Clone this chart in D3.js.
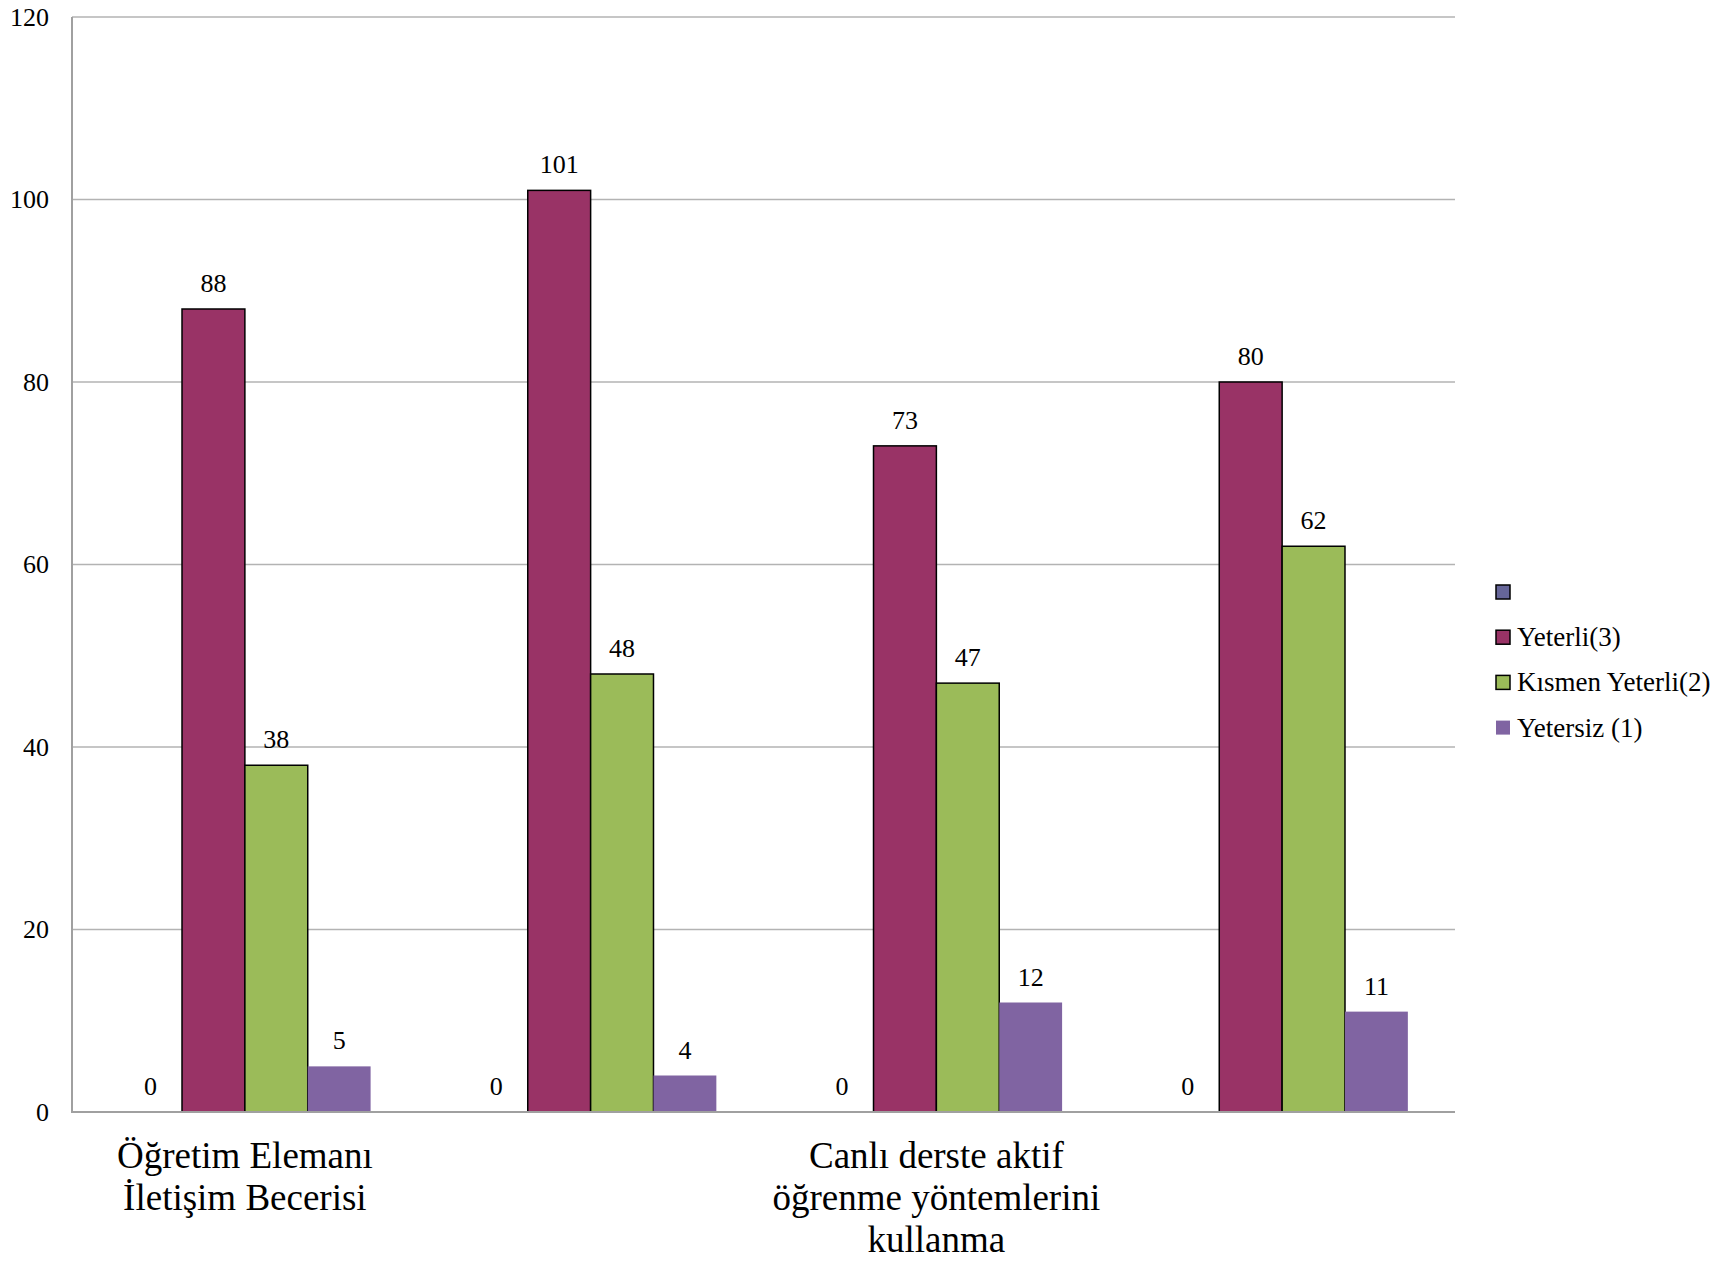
<!DOCTYPE html>
<html>
<head>
<meta charset="utf-8">
<script src="https://cdn.jsdelivr.net/npm/d3@7"></script>
<style>
html, body { margin: 0; padding: 0; background: #ffffff; }
svg { display: block; }
text { font-family: "Liberation Serif", "Times New Roman", serif; fill: #000; }
</style>
</head>
<body>
<svg id="chart" width="1733" height="1262"></svg>
<script>
// ---- data ----
const categories = [
  "Öğretim Elemanı İletişim Becerisi",
  "",
  "Canlı derste aktif öğrenme yöntemlerini kullanma",
  ""
];
const seriesNames = ["", "Yeterli(3)", "Kısmen Yeterli(2)", "Yetersiz (1)"];
const seriesBlank    = [0, 0, 0, 0];
const seriesYeterli  = [88, 101, 73, 80];
const seriesKismen   = [38, 48, 47, 62];
const seriesYetersiz = [5, 4, 12, 11];
const yTicks = [0, 20, 40, 60, 80, 100, 120];

// ---- styling (not data) ----
const seriesValues = [seriesBlank, seriesYeterli, seriesKismen, seriesYetersiz];
const colors = ["#666699", "#993366", "#9BBB59", "#8064A2"];
const outlined = [true, true, true, false];
const serif = '"Liberation Serif", "Times New Roman", serif';

const svg = d3.select("#chart");
const plotLeft = 72, plotRight = 1455, plotTop = 17, plotBottom = 1112;

const x0 = d3.scaleBand()
  .domain(d3.range(categories.length))
  .range([plotLeft, plotRight])
  .paddingInner(1.5 / 5.5)
  .paddingOuter(1.5 / 5.5 / 2);

const x1 = d3.scaleBand()
  .domain(d3.range(seriesNames.length))
  .range([0, x0.bandwidth()])
  .padding(0);

const y = d3.scaleLinear().domain([0, 120]).range([plotBottom, plotTop]);

// gridlines
svg.append("g")
  .selectAll("line")
  .data(yTicks.filter(t => t > 0))
  .join("line")
  .attr("x1", plotLeft).attr("x2", plotRight)
  .attr("y1", d => y(d)).attr("y2", d => y(d))
  .attr("stroke", "#B3B3B3")
  .attr("stroke-width", 1.5);

// y axis labels
const yAxis = svg.append("g")
  .attr("transform", `translate(${plotLeft},0)`)
  .call(d3.axisLeft(y).tickValues(yTicks).tickSize(0).tickPadding(23).tickFormat(d3.format("d")));
yAxis.attr("font-family", serif);
yAxis.select(".domain").remove();
yAxis.selectAll("text")
  .style("font-family", serif)
  .style("font-size", "26px")
  .attr("fill", "#000");

// bars
const groups = svg.append("g")
  .selectAll("g")
  .data(categories.map((c, i) => i))
  .join("g")
  .attr("transform", i => `translate(${x0(i)},0)`);

groups.selectAll("rect")
  .data(i => seriesValues.map((vals, s) => ({ s, v: vals[i] })))
  .join("rect")
  .attr("x", d => x1(d.s))
  .attr("width", x1.bandwidth())
  .attr("y", d => y(d.v))
  .attr("height", d => y(0) - y(d.v))
  .attr("fill", d => colors[d.s])
  .attr("stroke", d => (outlined[d.s] && d.v > 0) ? "#000" : "none")
  .attr("stroke-width", 1.5);

groups.selectAll("text.val")
  .data(i => seriesValues.map((vals, s) => ({ s, v: vals[i] })))
  .join("text")
  .attr("class", "val")
  .attr("x", d => x1(d.s) + x1.bandwidth() / 2)
  .attr("y", d => y(d.v) - 17)
  .attr("text-anchor", "middle")
  .style("font-family", serif)
  .style("font-size", "26px")
  .text(d => d.v);

// axis lines
svg.append("line")
  .attr("x1", plotLeft).attr("x2", plotLeft)
  .attr("y1", plotTop).attr("y2", plotBottom + 1)
  .attr("stroke", "#A0A0A0").attr("stroke-width", 2);
svg.append("line")
  .attr("x1", plotLeft - 1).attr("x2", plotRight)
  .attr("y1", plotBottom).attr("y2", plotBottom)
  .attr("stroke", "#A0A0A0").attr("stroke-width", 2);

// category labels with wrapping
const maxW = x0.step();
categories.forEach((cat, i) => {
  if (!cat) return;
  const cx = x0(i) + x0.bandwidth() / 2;
  const t = svg.append("text")
    .attr("text-anchor", "middle")
    .style("font-family", serif)
    .style("font-size", "37px");
  const words = cat.split(" ");
  let lines = [];
  let line = [];
  const probe = svg.append("text").style("font-family", serif).style("font-size", "37px");
  words.forEach(w => {
    const test = line.concat([w]).join(" ");
    probe.text(test);
    if (probe.node().getComputedTextLength() > maxW && line.length) {
      lines.push(line.join(" "));
      line = [w];
    } else {
      line.push(w);
    }
  });
  if (line.length) lines.push(line.join(" "));
  probe.remove();
  lines.forEach((l, k) => {
    t.append("tspan")
      .attr("x", cx)
      .attr("y", 1168 + k * 42)
      .text(l);
  });
});

// legend
const legend = svg.append("g");
const legendY0 = 592, legendStep = 45.2;
seriesNames.forEach((name, s) => {
  const cy = legendY0 + s * legendStep;
  legend.append("rect")
    .attr("x", 1496).attr("y", cy - 7)
    .attr("width", 14).attr("height", 14)
    .attr("fill", colors[s])
    .attr("stroke", outlined[s] ? "#000" : "none")
    .attr("stroke-width", 1.5);
  legend.append("text")
    .attr("x", 1517).attr("y", cy + 9)
    .style("font-family", serif)
    .style("font-size", "27px")
    .text(name);
});
</script>
</body>
</html>
